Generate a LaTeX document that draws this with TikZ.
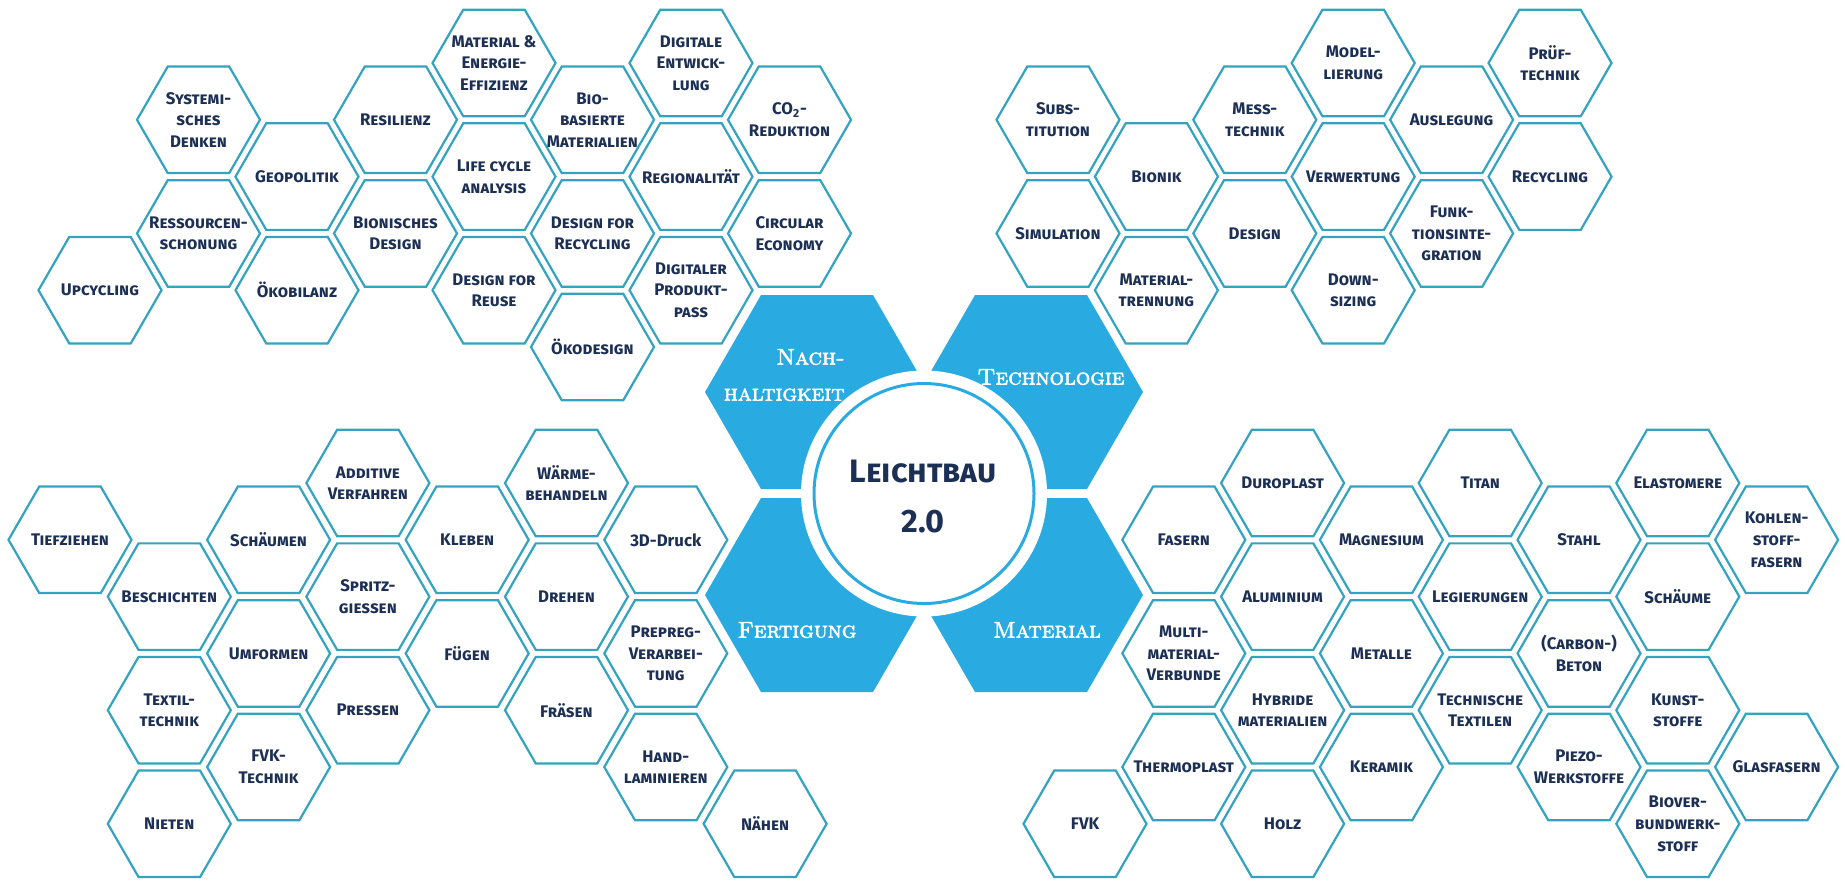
\documentclass[tikz,border=0pt]{standalone}
\usepackage{fontspec}
\usetikzlibrary{shapes.geometric}
\newfontfamily\hexfont{Fira Sans}[Letters=SmallCaps]
\newfontfamily\plainfont{Fira Sans}
\newfontfamily\bigserif{lmromancaps10-regular.otf}[FakeBold=2.5]
\definecolor{hexline}{HTML}{33A3BF}
\definecolor{hexblue}{HTML}{29ABE2}
\definecolor{navy}{HTML}{1C2F55}

\begin{document}
\begin{tikzpicture}[
    x=0.5pt, y=-0.5pt,
    hexa/.style={regular polygon, regular polygon sides=6, minimum size=61.5pt, inner sep=0pt, draw=hexline, line width=1.1pt, fill=white},
    bighex/.style={regular polygon, regular polygon sides=6, minimum size=112pt, inner sep=0pt, fill=hexblue},
    hextext/.style={font=\hexfont\bfseries\fontsize{8.4}{10.8}\selectfont, text=navy, align=center, inner sep=0pt},
    bigtext/.style={font=\bigserif\fontsize{11.4}{18}\selectfont, text=white, inner sep=0pt},
    coretext/.style={font=\hexfont\bfseries\fontsize{16.2}{25}\selectfont, text=navy, align=center, inner sep=0pt}
]
\useasboundingbox (0,0) rectangle (1845,880);

% Center: four big hexagons and the circle
\node[bighex] (nach) at (817,392) {};
\node[bighex] (tech) at (1031,392) {};
\node[bighex] (fert) at (817,595) {};
\node[bighex] (mat) at (1031,595) {};
\node[circle, fill=white, minimum size=123pt, inner sep=0pt] (ring) at (924,493.5) {};
\node[circle, draw=hexblue, line width=1.5pt, fill=white, minimum size=110pt, inner sep=0pt] (core) at (924,493.5) {};
\node[coretext] (coretitle) at (923,497) {Leichtbau\\2.0};
\node[bigtext, align=right, anchor=east] (nachtext) at (845,375) {Nach-\\haltigkeit};
\node[bigtext] (techtext) at (1051,377) {Technologie};
\node[bigtext] (ferttext) at (797,630) {Fertigung};
\node[bigtext] (mattext) at (1047,630) {Material};

% Nachhaltigkeit
\node[hexa, label={[hextext]center:Upcycling}] (upcycling) at (100,290.2) {};
\node[hexa, label={[hextext]center:{Systemi-\\sches\\Denken}}] (systemisch) at (198.5,119.8) {};
\node[hexa, label={[hextext]center:{Ressourcen-\\schonung}}] (ressourcen) at (198.5,233.4) {};
\node[hexa, label={[hextext]center:Geopolitik}] (geopolitik) at (297,176.6) {};
\node[hexa, label={[hextext]center:Ökobilanz}] (oekobilanz) at (297,290.2) {};
\node[hexa, label={[hextext]center:Resilienz}] (resilienz) at (395.5,119.8) {};
\node[hexa, label={[hextext]center:{Bionisches\\Design}}] (bionisch) at (395.5,233.4) {};
\node[hexa, label={[hextext]center:{Material \&\\Energie-\\Effizienz}}] (effizienz) at (494,63) {};
\node[hexa, label={[hextext]center:{Life cycle\\analysis}}] (lca) at (494,176.6) {};
\node[hexa, label={[hextext]center:{Design for\\Reuse}}] (reuse) at (494,290.2) {};
\node[hexa, label={[hextext]center:{Bio-\\basierte\\Materialien}}] (biobasiert) at (592.5,119.8) {};
\node[hexa, label={[hextext]center:{Design for\\Recycling}}] (dfrecycling) at (592.5,233.4) {};
\node[hexa, label={[hextext]center:Ökodesign}] (oekodesign) at (592.5,347) {};
\node[hexa, label={[hextext]center:{Digitale\\Entwick-\\lung}}] (digientw) at (691,63) {};
\node[hexa, label={[hextext]center:Regionalität}] (regional) at (691,176.6) {};
\node[hexa, label={[hextext]center:{Digitaler\\Produkt-\\pass}}] (produktpass) at (691,290.2) {};
\node[hexa, label={[hextext]center:{CO\textsubscript{2}-\\Reduktion}}] (cozwei) at (789.5,119.8) {};
\node[hexa, label={[hextext]center:{Circular\\Economy}}] (circular) at (789.5,233.4) {};

% Technologie
\node[hexa, label={[hextext]center:{Subs-\\titution}}] (substitution) at (1058,119.8) {};
\node[hexa, label={[hextext]center:Simulation}] (simulation) at (1058,233.4) {};
\node[hexa, label={[hextext]center:Bionik}] (bionik) at (1156.4,176.6) {};
\node[hexa, label={[hextext]center:{Material-\\trennung}}] (trennung) at (1156.4,290.2) {};
\node[hexa, label={[hextext]center:{Mess-\\technik}}] (messtechnik) at (1254.8,119.8) {};
\node[hexa, label={[hextext]center:Design}] (design) at (1254.8,233.4) {};
\node[hexa, label={[hextext]center:{Model-\\lierung}}] (modell) at (1353.2,63) {};
\node[hexa, label={[hextext]center:Verwertung}] (verwertung) at (1353.2,176.6) {};
\node[hexa, label={[hextext]center:{Down-\\sizing}}] (downsizing) at (1353.2,290.2) {};
\node[hexa, label={[hextext]center:Auslegung}] (auslegung) at (1451.6,119.8) {};
\node[hexa, label={[hextext]center:{Funk-\\tionsinte-\\gration}}] (funktion) at (1451.6,233.4) {};
\node[hexa, label={[hextext]center:{Prüf-\\technik}}] (prueftechnik) at (1550,63) {};
\node[hexa, label={[hextext]center:Recycling}] (recycling) at (1550,176.6) {};

% Fertigung
\node[hexa, label={[hextext]center:Tiefziehen}] (tiefziehen) at (70,539.8) {};
\node[hexa, label={[hextext]center:Beschichten}] (beschichten) at (169.3,596.6) {};
\node[hexa, label={[hextext]center:{Textil-\\technik}}] (textil) at (169.3,710.2) {};
\node[hexa, label={[hextext]center:Nieten}] (nieten) at (169.3,823.8) {};
\node[hexa, label={[hextext]center:Schäumen}] (schaeumen) at (268.6,539.8) {};
\node[hexa, label={[hextext]center:Umformen}] (umformen) at (268.6,653.4) {};
\node[hexa, label={[hextext]center:{FVK-\\Technik}}] (fvktechnik) at (268.6,767) {};
\node[hexa, label={[hextext]center:{Additive\\Verfahren}}] (additiv) at (367.9,483) {};
\node[hexa, label={[hextext]center:{Spritz-\\giessen}}] (spritz) at (367.9,596.6) {};
\node[hexa, label={[hextext]center:Pressen}] (pressen) at (367.9,710.2) {};
\node[hexa, label={[hextext]center:Kleben}] (kleben) at (467.2,539.8) {};
\node[hexa, label={[hextext]center:Fügen}] (fuegen) at (467.2,653.4) {};
\node[hexa, label={[hextext]center:{Wärme-\\behandeln}}] (waerme) at (566.5,483) {};
\node[hexa, label={[hextext]center:Drehen}] (drehen) at (566.5,596.6) {};
\node[hexa, label={[hextext]center:Fräsen}] (fraesen) at (566.5,710.2) {};
\node[hexa, label={[hextext, font=\plainfont\bfseries\fontsize{8.4}{10.8}\selectfont]center:3D-Druck}] (druck) at (665.8,539.8) {};
\node[hexa, label={[hextext]center:{Prepreg-\\Verarbei-\\tung}}] (prepreg) at (665.8,653.4) {};
\node[hexa, label={[hextext]center:{Hand-\\laminieren}}] (handlam) at (665.8,767) {};
\node[hexa, label={[hextext]center:Nähen}] (naehen) at (765.1,823.8) {};

% Material
\node[hexa, label={[hextext]center:FVK}] (fvk) at (1085,823.8) {};
\node[hexa, label={[hextext]center:Fasern}] (fasern) at (1183.8,539.8) {};
\node[hexa, label={[hextext]center:{Multi-\\material-\\Verbunde}}] (multimat) at (1183.8,653.4) {};
\node[hexa, label={[hextext]center:Thermoplast}] (thermoplast) at (1183.8,767) {};
\node[hexa, label={[hextext]center:Duroplast}] (duroplast) at (1282.6,483) {};
\node[hexa, label={[hextext]center:Aluminium}] (aluminium) at (1282.6,596.6) {};
\node[hexa, label={[hextext]center:{Hybride\\materialien}}] (hybrid) at (1282.6,710.2) {};
\node[hexa, label={[hextext]center:Holz}] (holz) at (1282.6,823.8) {};
\node[hexa, label={[hextext]center:Magnesium}] (magnesium) at (1381.4,539.8) {};
\node[hexa, label={[hextext]center:Metalle}] (metalle) at (1381.4,653.4) {};
\node[hexa, label={[hextext]center:Keramik}] (keramik) at (1381.4,767) {};
\node[hexa, label={[hextext]center:Titan}] (titan) at (1480.2,483) {};
\node[hexa, label={[hextext]center:Legierungen}] (legierungen) at (1480.2,596.6) {};
\node[hexa, label={[hextext]center:{Technische\\Textilen}}] (textilen) at (1480.2,710.2) {};
\node[hexa, label={[hextext]center:Stahl}] (stahl) at (1579,539.8) {};
\node[hexa, label={[hextext]center:{(Carbon-)\\Beton}}] (beton) at (1579,653.4) {};
\node[hexa, label={[hextext]center:{Piezo-\\Werkstoffe}}] (piezo) at (1579,767) {};
\node[hexa, label={[hextext]center:Elastomere}] (elastomere) at (1677.8,483) {};
\node[hexa, label={[hextext]center:Schäume}] (schaeume) at (1677.8,596.6) {};
\node[hexa, label={[hextext]center:{Kunst-\\stoffe}}] (kunststoffe) at (1677.8,710.2) {};
\node[hexa, label={[hextext]center:{Biover-\\bundwerk-\\stoff}}] (bioverbund) at (1677.8,823.8) {};
\node[hexa, label={[hextext]center:{Kohlen-\\stoff-\\fasern}}] (kohlenstoff) at (1776.6,539.8) {};
\node[hexa, label={[hextext]center:Glasfasern}] (glasfasern) at (1776.6,767) {};

\end{tikzpicture}
\end{document}
